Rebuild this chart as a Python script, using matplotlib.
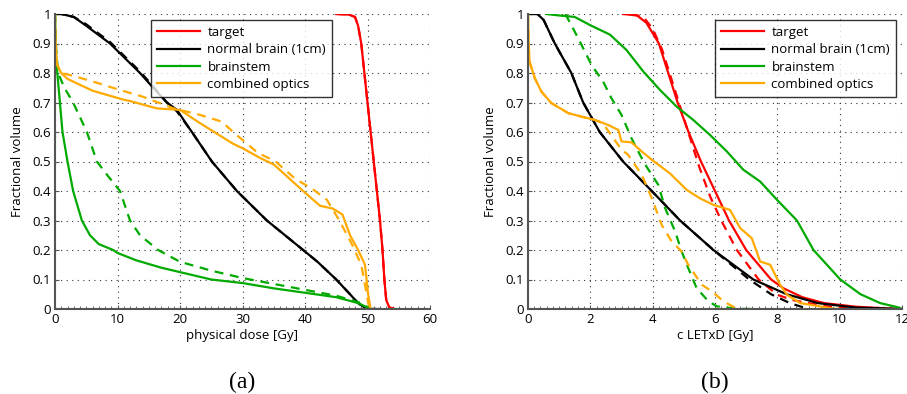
import matplotlib
matplotlib.use("Agg")
import matplotlib.pyplot as plt
from matplotlib.ticker import MultipleLocator

# ---------------- data (a) physical dose ----------------
a_target_x = [45, 47, 48, 48.5, 49, 49.5, 50, 50.5, 51, 51.5, 52, 52.4, 52.7, 53, 53.5, 54.3]
a_target_y = [1.0, 0.998, 0.99, 0.96, 0.9, 0.8, 0.7, 0.6, 0.5, 0.4, 0.3, 0.2, 0.1, 0.03, 0.005, 0.0]

a_brain_x = [0, 1, 3, 5, 8.8, 13.6, 15.7, 17.9, 19.5, 21.9, 25.1, 29.1, 33.9, 39.7, 42, 45, 47.2, 48.5, 49.9, 52]
a_brain_y = [1.0, 1.0, 0.99, 0.96, 0.9, 0.8, 0.75, 0.7, 0.675, 0.6, 0.5, 0.4, 0.3, 0.2, 0.16, 0.1, 0.05, 0.02, 0.0, 0.0]
a_brain_dx = [0, 1, 3, 5, 8.8, 13.6, 15.7, 17.9, 19.5, 21.9, 25.1, 29.1, 33.9, 39.7, 42, 45, 47.2, 48.5, 49.9, 52]
a_brain_dy = [1.0, 1.0, 0.99, 0.965, 0.905, 0.805, 0.755, 0.7, 0.67, 0.6, 0.5, 0.4, 0.3, 0.2, 0.16, 0.1, 0.05, 0.02, 0.0, 0.0]

a_stem_x = [0, 0.1, 0.37, 1.2, 2.0, 2.9, 4.3, 5.6, 7, 9.3, 10, 13, 17, 20, 25, 30, 35, 40, 45, 48.5, 50.5]
a_stem_y = [1.0, 0.88, 0.8, 0.6, 0.5, 0.4, 0.3, 0.25, 0.22, 0.2, 0.19, 0.165, 0.14, 0.125, 0.1, 0.088, 0.07, 0.055, 0.04, 0.02, 0.0]
a_stem_dx = [0, 0.2, 0.5, 1.5, 2.9, 5.1, 6.7, 8.5, 10.4, 12, 13.6, 16.5, 20, 25, 30, 35, 40, 45, 49, 50.5]
a_stem_dy = [1.0, 0.88, 0.8, 0.75, 0.7, 0.6, 0.5, 0.45, 0.4, 0.3, 0.25, 0.2, 0.16, 0.13, 0.105, 0.085, 0.065, 0.045, 0.02, 0.0]

a_optic_x = [0, 0.1, 0.3, 1, 2, 4.5, 6, 10.9, 12, 16.3, 20, 23.2, 28.5, 30, 33, 35, 39.7, 42.4, 44.5, 46, 47.2, 48.5, 49.6, 50.1, 50.5]
a_optic_y = [1.0, 0.9, 0.83, 0.8, 0.78, 0.755, 0.74, 0.71, 0.705, 0.68, 0.675, 0.63, 0.56, 0.545, 0.51, 0.49, 0.4, 0.35, 0.34, 0.32, 0.25, 0.2, 0.15, 0.05, 0.0]
a_optic_dx = [0, 0.1, 0.3, 1, 3, 7, 10, 14, 19, 23.2, 26.7, 28.5, 32.4, 35.3, 38.5, 41, 43.5, 45.5, 47.5, 49, 50.3]
a_optic_dy = [1.0, 0.9, 0.83, 0.8, 0.79, 0.765, 0.745, 0.72, 0.68, 0.658, 0.635, 0.6, 0.53, 0.5, 0.44, 0.41, 0.37, 0.3, 0.22, 0.15, 0.0]

# ---------------- data (b) c LETxD ----------------
b_target_x = [3.05, 3.5, 3.8, 4.2, 4.5, 4.8, 5.15, 5.55, 6.0, 6.45, 7.0, 7.8, 8.2, 8.8, 9.5, 10.5, 11.5, 12]
b_target_y = [1.0, 0.995, 0.97, 0.9, 0.8, 0.7, 0.6, 0.5, 0.4, 0.3, 0.2, 0.1, 0.07, 0.04, 0.02, 0.008, 0.002, 0.0]
b_target_dx = [3.3, 3.7, 4.0, 4.3, 4.6, 4.9, 5.2, 5.5, 5.85, 6.2, 6.7, 7.4, 8.0, 8.5, 9.5, 10.5]
b_target_dy = [1.0, 0.99, 0.95, 0.88, 0.78, 0.68, 0.58, 0.48, 0.38, 0.3, 0.2, 0.1, 0.048, 0.03, 0.01, 0.0]

b_brain_x = [0.05, 0.3, 0.5, 0.86, 1.39, 1.77, 2.3, 3.05, 3.97, 4.88, 5.95, 7.23, 8.3, 9.3, 10.5, 12]
b_brain_y = [1.0, 1.0, 0.98, 0.9, 0.8, 0.7, 0.6, 0.5, 0.4, 0.3, 0.2, 0.1, 0.05, 0.02, 0.005, 0.0]
b_brain_dx = [0.05, 0.3, 0.5, 0.86, 1.39, 1.77, 2.3, 3.05, 3.97, 4.88, 5.95, 7.1, 7.8, 8.4, 9.0]
b_brain_dy = [1.0, 1.0, 0.98, 0.9, 0.8, 0.7, 0.6, 0.5, 0.4, 0.3, 0.2, 0.1, 0.05, 0.02, 0.0]

b_stem_x = [0.59, 1.0, 1.5, 1.98, 2.63, 3.16, 3.7, 4.23, 4.77, 5.3, 5.84, 6.38, 6.91, 7.45, 7.99, 8.63, 9.16, 10.02, 10.67, 11.3, 11.9, 12]
b_stem_y = [1.0, 0.995, 0.99, 0.963, 0.93, 0.878, 0.805, 0.743, 0.686, 0.641, 0.59, 0.534, 0.472, 0.432, 0.37, 0.3, 0.2, 0.1, 0.05, 0.02, 0.005, 0.0]
b_stem_dx = [1.2, 1.36, 1.61, 2.04, 2.41, 2.68, 3.0, 3.32, 3.65, 3.8, 4.18, 4.4, 4.72, 4.93, 5.14, 5.41, 5.79, 6.06, 6.7, 7.3]
b_stem_dy = [1.0, 0.968, 0.918, 0.827, 0.771, 0.714, 0.658, 0.579, 0.511, 0.483, 0.421, 0.342, 0.263, 0.195, 0.139, 0.071, 0.026, 0.009, 0.001, 0.0]

b_optic_x = [0, 0.02, 0.05, 0.22, 0.43, 0.75, 1.29, 1.72, 2.14, 2.57, 2.9, 3.0, 3.32, 3.65, 3.97, 4.55, 5.09, 5.52, 5.95, 6.48, 6.81, 7.18, 7.45, 7.77, 8.09, 8.31, 8.74, 9.8, 10.0]
b_optic_y = [1.0, 0.9, 0.838, 0.782, 0.737, 0.698, 0.664, 0.652, 0.641, 0.624, 0.607, 0.568, 0.565, 0.534, 0.506, 0.46, 0.404, 0.375, 0.353, 0.336, 0.274, 0.24, 0.161, 0.15, 0.082, 0.048, 0.02, 0.001, 0.0]
b_optic_dx = [0, 0.02, 0.05, 0.22, 0.43, 0.75, 1.29, 1.72, 2.14, 2.4, 2.6, 2.8, 3.0, 3.21, 3.65, 3.97, 4.29, 4.61, 4.93, 5.14, 5.58, 5.9, 6.27, 6.7, 6.8]
b_optic_dy = [1.0, 0.9, 0.838, 0.782, 0.737, 0.698, 0.664, 0.652, 0.641, 0.63, 0.6, 0.57, 0.54, 0.523, 0.455, 0.376, 0.285, 0.229, 0.195, 0.15, 0.082, 0.06, 0.026, 0.001, 0.0]

legend_labels = ["target", "normal brain (1cm)", "brainstem", "combined optics"]
colors = ["#ff0000", "#000000", "#00aa00", "#ffaa00"]
a_xticks = [0, 10, 20, 30, 40, 50, 60]
b_xticks = [0, 2, 4, 6, 8, 10, 12]
yticks = [0, 0.1, 0.2, 0.3, 0.4, 0.5, 0.6, 0.7, 0.8, 0.9, 1]

plt.rcParams['font.family'] = ['Open Sans', 'DejaVu Sans']

fig = plt.figure(figsize=(9.07, 3.94), dpi=100)
axA = fig.add_axes([55/907, 85/394, 375/907, 295/394])
axB = fig.add_axes([528/907, 85/394, 374/907, 295/394])

panels = [
    (axA, [(a_target_x, a_target_y, a_target_x, a_target_y),
           (a_brain_x, a_brain_y, a_brain_dx, a_brain_dy),
           (a_stem_x, a_stem_y, a_stem_dx, a_stem_dy),
           (a_optic_x, a_optic_y, a_optic_dx, a_optic_dy)],
     a_xticks, "physical dose [Gy]", "(a)", 60),
    (axB, [(b_target_x, b_target_y, b_target_dx, b_target_dy),
           (b_brain_x, b_brain_y, b_brain_dx, b_brain_dy),
           (b_stem_x, b_stem_y, b_stem_dx, b_stem_dy),
           (b_optic_x, b_optic_y, b_optic_dx, b_optic_dy)],
     b_xticks, "c LETxD [Gy]", "(b)", 12),
]

for ax, series, xt, xlabel, cap, xmax in panels:
    handles = []
    for (sx, sy, dx, dy), c, lab in zip(series, colors, legend_labels):
        ax.plot(dx, dy, color=c, lw=1.6, ls=(0, (4, 3)))
        h, = ax.plot(sx, sy, color=c, lw=1.6, label=lab)
        handles.append(h)
    ax.set_xlim(0, xmax)
    ax.set_ylim(0, 1)
    ax.set_xticks(xt)
    ax.set_xticklabels([str(v) for v in xt])
    ax.set_yticks(yticks)
    ax.set_yticklabels(["0", "0.1", "0.2", "0.3", "0.4", "0.5", "0.6", "0.7", "0.8", "0.9", "1"])
    ax.xaxis.set_minor_locator(MultipleLocator(xmax / 60.0))
    ax.grid(True, which='major', color='#333333', ls=(0, (1, 4)), lw=0.8)
    for s in ['top', 'right']:
        ax.spines[s].set_visible(False)
    for s in ['left', 'bottom']:
        ax.spines[s].set_color('#555555')
        ax.spines[s].set_linewidth(1.5)
    ax.tick_params(which='both', direction='in', length=3, color='#555555', labelsize=9.5, pad=3)
    ax.tick_params(which='minor', length=2)
    ax.set_xlabel(xlabel, fontsize=9.5, labelpad=2)
    ax.set_ylabel("Fractional volume", fontsize=9.5, labelpad=6)
    leg = ax.legend(handles=handles, loc='upper right', fontsize=9.5, frameon=True,
                    fancybox=False, edgecolor='black', handlelength=3.2,
                    borderaxespad=0.0, labelspacing=0.33, handletextpad=0.6, borderpad=0.45)
    leg.get_frame().set_linewidth(1.0)
    ax.text(0.5, -0.248, cap, transform=ax.transAxes, ha='center', va='center',
            fontsize=17, family='Liberation Serif')

axA.get_legend().set_bbox_to_anchor((332/907, (394-20)/394), transform=fig.transFigure)
axB.get_legend().set_bbox_to_anchor((896/907, (394-20)/394), transform=fig.transFigure)

fig.savefig("out.png", dpi=100)
